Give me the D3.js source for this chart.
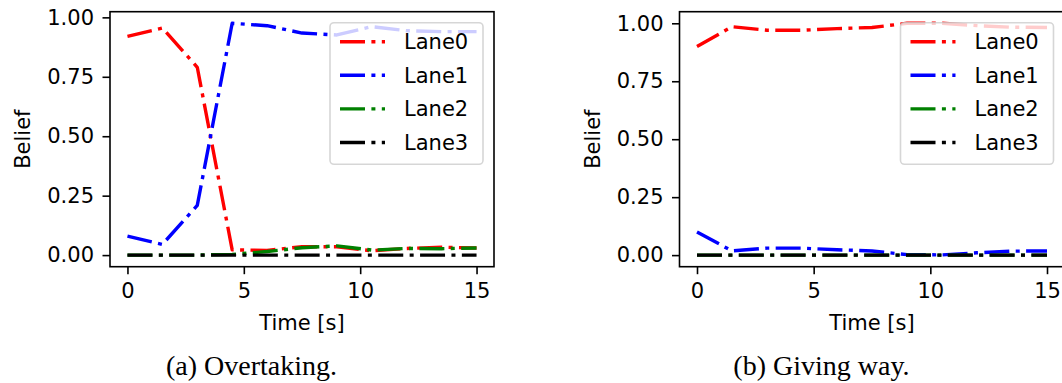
<!DOCTYPE html>
<html>
<head>
<meta charset="utf-8">
<script src="https://cdn.jsdelivr.net/npm/d3@7"></script>
<style>
  html, body { margin: 0; padding: 0; background: #fff; }
  svg text { font-family: "DejaVu Sans", sans-serif; }
</style>
</head>
<body>
<svg id="chart" width="1062" height="383"></svg>
<script>
// Sample times (s)
const time = [0, 1.5, 3, 4.5, 6, 7.5, 9, 10.5, 12, 13.5, 15];

// Lane beliefs, scenario (a): overtaking
const overtakeLane0 = [0.92, 0.955, 0.79, 0.022, 0.02, 0.035, 0.035, 0.018, 0.028, 0.033, 0.03];
const overtakeLane1 = [0.08, 0.045, 0.209, 0.975, 0.965, 0.934, 0.926, 0.961, 0.944, 0.94, 0.94];
const overtakeLane2 = [0, 0, 0, 0.003, 0.015, 0.031, 0.039, 0.021, 0.028, 0.027, 0.03];
const overtakeLane3 = [0, 0, 0, 0, 0, 0, 0, 0, 0, 0, 0];

// Lane beliefs, scenario (b): giving way
const givewayLane0 = [0.90, 0.985, 0.97, 0.97, 0.977, 0.982, 1.0, 1.0, 0.99, 0.983, 0.982];
const givewayLane1 = [0.10, 0.018, 0.03, 0.03, 0.023, 0.018, 0.002, 0.001, 0.01, 0.017, 0.018];
const givewayLane2 = [0, 0, 0, 0, 0, 0, 0, 0, 0, 0, 0];
const givewayLane3 = [0, 0, 0, 0, 0, 0, 0, 0, 0, 0, 0];

const laneNames = ["Lane0", "Lane1", "Lane2", "Lane3"];
const laneColors = ["#ff0000", "#0000ff", "#008000", "#000000"];
const xTicks = [0, 5, 10, 15];
const yTicks = [0, 0.25, 0.5, 0.75, 1.0];
const captions = ["(a) Overtaking.", "(b) Giving way."];

const svg = d3.select("#chart");
const dash = "25,6.4,4,6.4";
const lineW = 3.4;

const panels = [
  { left: 110, right: 494, top: 11.7, bottom: 266.7, yDomain: [-0.0488, 1.0238],
    series: [overtakeLane0, overtakeLane1, overtakeLane2, overtakeLane3],
    labelX: 30, captionX: 251.5 },
  { left: 679.5, right: 1064.5, top: 11.7, bottom: 266.7, yDomain: [-0.05, 1.05],
    series: [givewayLane0, givewayLane1, givewayLane2, givewayLane3],
    labelX: 599.5, captionX: 821.5 }
];

panels.forEach((p, pi) => {
  const x = d3.scaleLinear().domain([-0.75, 15.75]).range([p.left, p.right]);
  const y = d3.scaleLinear().domain(p.yDomain).range([p.bottom, p.top]);
  const g = svg.append("g");

  // Lines are clipped to the plotting area
  const clipId = "clip" + pi;
  svg.append("defs").append("clipPath").attr("id", clipId)
    .append("rect").attr("x", p.left).attr("y", p.top)
    .attr("width", p.right - p.left).attr("height", p.bottom - p.top);

  const line = d3.line().x((d, i) => x(time[i])).y(d => y(d));
  const lines = g.append("g").attr("clip-path", `url(#${clipId})`);
  p.series.forEach((s, si) => {
    lines.append("path").datum(s)
      .attr("d", line)
      .attr("fill", "none")
      .attr("stroke", laneColors[si])
      .attr("stroke-width", lineW)
      .attr("stroke-dasharray", dash)
      .attr("stroke-linejoin", "round");
  });

  // Frame
  g.append("rect")
    .attr("x", p.left).attr("y", p.top)
    .attr("width", p.right - p.left).attr("height", p.bottom - p.top)
    .attr("fill", "none").attr("stroke", "#000").attr("stroke-width", 1.6);

  // Axes
  const xAxis = g.append("g").attr("transform", `translate(0,${p.bottom})`)
    .call(d3.axisBottom(x).tickValues(xTicks).tickFormat(d3.format("d"))
      .tickSize(7.5).tickPadding(8.5).tickSizeOuter(0));
  const yAxis = g.append("g").attr("transform", `translate(${p.left},0)`)
    .call(d3.axisLeft(y).tickValues(yTicks).tickFormat(d3.format(".2f"))
      .tickSize(7.5).tickPadding(8.5).tickSizeOuter(0));
  [xAxis, yAxis].forEach(a => {
    a.select(".domain").remove();
    a.selectAll(".tick line").attr("stroke", "#000").attr("stroke-width", 1.6);
    a.selectAll(".tick text").attr("fill", "#000")
      .style("font-family", "'DejaVu Sans', sans-serif").style("font-size", "21px");
  });

  // Axis titles
  g.append("text")
    .attr("x", (p.left + p.right) / 2)
    .attr("y", 330)
    .attr("text-anchor", "middle")
    .style("font-size", "21px")
    .text("Time [s]");
  g.append("text")
    .attr("transform", `translate(${p.labelX},${(p.top + p.bottom) / 2}) rotate(-90)`)
    .attr("text-anchor", "middle")
    .style("font-size", "21px")
    .text("Belief");

  // Legend
  const lgRight = p.right - 11;
  const lgW = 153, lgX = lgRight - lgW, lgY = p.top + 11, lgH = 141.6;
  const lg = g.append("g");
  lg.append("rect")
    .attr("x", lgX).attr("y", lgY).attr("width", lgW).attr("height", lgH)
    .attr("rx", 4).attr("ry", 4)
    .attr("fill", "rgba(255,255,255,0.8)")
    .attr("stroke", "rgba(204,204,204,0.8)").attr("stroke-width", 1.6);
  laneNames.forEach((name, li) => {
    const cy = lgY + 19 + li * 33.6;
    lg.append("line")
      .attr("x1", lgX + 10).attr("x2", lgX + 55)
      .attr("y1", cy).attr("y2", cy)
      .attr("stroke", laneColors[li]).attr("stroke-width", lineW)
      .attr("stroke-dasharray", dash);
    lg.append("text")
      .attr("x", lgX + 74).attr("y", cy)
      .attr("dy", "0.36em")
      .style("font-size", "21px")
      .text(name);
  });

  // Caption
  svg.append("text")
    .attr("x", p.captionX).attr("y", 374.5)
    .attr("text-anchor", "middle")
    .style("font-family", "'Liberation Serif', 'Times New Roman', serif")
    .style("font-size", "28px")
    .text(captions[pi]);
});
</script>
</body>
</html>
